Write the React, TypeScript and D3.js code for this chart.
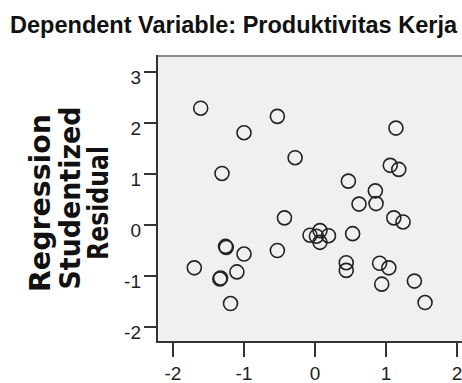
import * as d3 from "d3";
import React, { useEffect, useRef } from "react";

// predicted value (x) vs studentized residual (y)
const predicted = [
  -1.61, -1.0, -0.53, -1.31, -0.28, -0.43, 1.14, 1.06, 1.18, 0.47, 0.85, 0.86, 0.62,
  1.11, 1.24, -1.7, -1.25, -1.26, -1.0, -0.53, -1.34, -1.33, -1.1, -1.19, -0.07, 0.07,
  0.07, 0.19, 0.02, 0.53, 0.44, 0.44, 0.91, 1.04, 0.94, 1.4, 1.55,
];
const residuals = [
  2.29, 1.81, 2.13, 1.01, 1.32, 0.14, 1.9, 1.17, 1.09, 0.86, 0.67, 0.42, 0.41, 0.14,
  0.06, -0.84, -0.44, -0.42, -0.57, -0.5, -1.06, -1.04, -0.92, -1.54, -0.2, -0.11,
  -0.34, -0.21, -0.22, -0.17, -0.74, -0.89, -0.75, -0.84, -1.16, -1.1, -1.52,
];
const xTicks = [-2, -1, 0, 1, 2];
const yTicks = [-2, -1, 0, 1, 2, 3];
const title = "Dependent Variable: Produktivitas Kerja";
const yLabelLines = ["Regression", "Studentized", "Residual"];

const W = 462;
const H = 383;

const App: React.FC = () => {
  const ref = useRef<SVGSVGElement>(null);

  useEffect(() => {
    if (!ref.current) return;
    const svg = d3.select(ref.current);
    svg.selectAll("*").remove();

    const x = d3.scaleLinear().domain([-2, 2]).range([173, 457]);
    const y = d3.scaleLinear().domain([-2, 3]).range([327, 72]);

    const left = 157;
    const top = 56;
    const bottom = 342;

    // plot background
    svg
      .append("rect")
      .attr("x", left)
      .attr("y", top)
      .attr("width", W - left)
      .attr("height", bottom - top)
      .attr("fill", "#f0f0f0");

    // top frame
    svg
      .append("line")
      .attr("x1", left)
      .attr("x2", W)
      .attr("y1", top)
      .attr("y2", top)
      .attr("stroke", "#8a8a8a")
      .attr("stroke-width", 2);

    // axes lines
    svg
      .append("line")
      .attr("x1", left)
      .attr("x2", left)
      .attr("y1", top - 1)
      .attr("y2", bottom + 1)
      .attr("stroke", "#333")
      .attr("stroke-width", 2);
    svg
      .append("line")
      .attr("x1", left - 1)
      .attr("x2", W)
      .attr("y1", bottom)
      .attr("y2", bottom)
      .attr("stroke", "#333")
      .attr("stroke-width", 2);

    // y ticks
    const yt = svg.append("g");
    yt.selectAll("line")
      .data(yTicks)
      .enter()
      .append("line")
      .attr("x1", 144)
      .attr("x2", left)
      .attr("y1", (d) => y(d))
      .attr("y2", (d) => y(d))
      .attr("stroke", "#333")
      .attr("stroke-width", 2);
    yt.selectAll("text")
      .data(yTicks)
      .enter()
      .append("text")
      .attr("x", 141)
      .attr("y", (d) => y(d) + 12)
      .attr("text-anchor", "end")
      .style("font-family", "Liberation Sans, Arial, sans-serif")
      .style("font-size", "19px")
      .style("fill", "#222")
      .text((d) => String(d));

    // x ticks
    const xt = svg.append("g");
    xt.selectAll("line")
      .data(xTicks)
      .enter()
      .append("line")
      .attr("x1", (d) => x(d))
      .attr("x2", (d) => x(d))
      .attr("y1", bottom)
      .attr("y2", 357)
      .attr("stroke", "#333")
      .attr("stroke-width", 2);
    xt.selectAll("text")
      .data(xTicks)
      .enter()
      .append("text")
      .attr("x", (d) => x(d))
      .attr("y", 380)
      .attr("text-anchor", "middle")
      .style("font-family", "Liberation Sans, Arial, sans-serif")
      .style("font-size", "19px")
      .style("fill", "#222")
      .text((d) => String(d));

    // points
    svg
      .append("g")
      .selectAll("circle")
      .data(predicted.map((p, i) => [p, residuals[i]]))
      .enter()
      .append("circle")
      .attr("cx", (d) => x(d[0]))
      .attr("cy", (d) => y(d[1]))
      .attr("r", 7)
      .attr("fill", "none")
      .attr("stroke", "#222")
      .attr("stroke-width", 1.6);

    // title
    svg
      .append("text")
      .attr("x", 233.5)
      .attr("y", 33)
      .attr("text-anchor", "middle")
      .attr("textLength", 447)
      .attr("lengthAdjust", "spacingAndGlyphs")
      .style("font-family", "Liberation Sans, Arial, sans-serif")
      .style("font-weight", "bold")
      .style("font-size", "23px")
      .style("fill", "#111")
      .text(title);

    // y axis label (three lines, rotated)
    const lens = [178, 183, 114];
    const baseX = [50, 80, 108];
    svg
      .append("g")
      .selectAll("text")
      .data(yLabelLines)
      .enter()
      .append("text")
      .attr("transform", (_, i) => `translate(${baseX[i]}, ${i === 1 ? 198 : 203}) rotate(-90)`)
      .attr("text-anchor", "middle")
      .attr("textLength", (_, i) => lens[i])
      .attr("lengthAdjust", "spacingAndGlyphs")
      .style("font-family", "DejaVu Sans, sans-serif")
      .style("font-weight", "bold")
      .style("font-size", "28px")
      .style("fill", "#111")
      .text((d) => d);
  }, []);

  return (
    <svg
      ref={ref}
      width={W}
      height={H}
      style={{ position: "absolute", left: 0, top: 0, background: "#fff" }}
    ></svg>
  );
};

export default App;
